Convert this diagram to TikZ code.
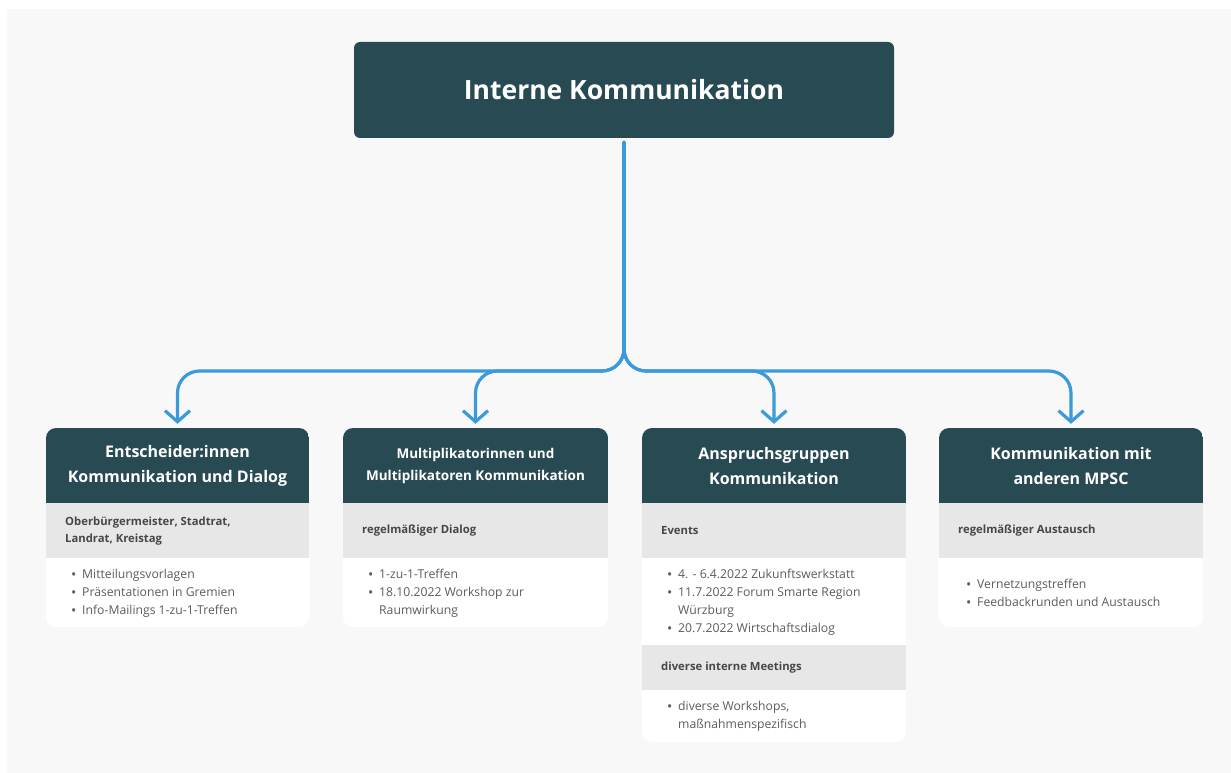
\documentclass[tikz,border=0pt]{standalone}
\usepackage{fontspec}
\setmainfont{Open Sans}
\usetikzlibrary{arrows.meta}

\definecolor{bg}{HTML}{F8F8F8}
\definecolor{head}{HTML}{284A52}
\definecolor{band}{HTML}{E7E7E7}
\definecolor{link}{HTML}{3B9AD9}
\definecolor{bandtext}{HTML}{474747}
\definecolor{itemtext}{HTML}{5C5C5C}

% small list bullet and the indent of a wrapped list line
\newcommand\bul{\makebox[11pt][l]{\raisebox{-0.2ex}{\scalebox{1.15}{\textbullet}}}}
\newcommand\cont{\hspace*{11pt}}

\tikzset{
  conn/.style={draw=link, line width=3.2pt, line cap=round, rounded corners=22pt,
    shorten <=4pt, shorten >=4pt,
    -{Straight Barb[length=11pt,width=25pt]}},
  titlebox/.style={fill=head, rounded corners=6pt, minimum width=540pt,
    minimum height=96pt, text=white, inner sep=0pt,
    font=\bfseries\fontsize{26.5}{30}\selectfont},
  headtxt/.style={text=white, align=center, inner sep=0pt, minimum height=75pt,
    font=\bfseries\fontsize{16}{25}\selectfont},
  headsmall/.style={headtxt, font=\bfseries\fontsize{13.5}{22}\selectfont},
  bandtxt/.style={text=bandtext, align=left, anchor=west, inner sep=0pt,
    font=\bfseries\fontsize{11.3}{17}\selectfont},
  itemtxt/.style={text=itemtext, align=left, anchor=west, inner sep=0pt,
    font=\fontsize{12.2}{18}\selectfont},
  cardfill/.style={fill=white, rounded corners=10pt},
}

\begin{document}
\begin{tikzpicture}[x=1pt, y=-1pt]
  \useasboundingbox (0,0) rectangle (1231,773);
  \fill[bg] (7,9) rectangle (1231,773);

  % title
  \node[titlebox] (top) at (624,90) {Interne Kommunikation};

  % card 1
  \fill[cardfill] (46,428) rectangle (309,627);
  \begin{scope}
    \clip[rounded corners=10pt] (46,428) rectangle (309,627);
    \fill[head] (46,428) rectangle (309,503);
    \fill[band] (46,503) rectangle (309,558);
  \end{scope}
  \node[headtxt, minimum width=263pt] (h1) at (177.5,465.5)
    {Entscheider:innen\\Kommunikation und Dialog};
  \node[bandtxt] (b1) at (65,531) {Oberbürgermeister, Stadtrat,\\Landrat, Kreistag};
  \node[itemtxt] (l1) at (71,593) {\bul Mitteilungsvorlagen\\\bul Präsentationen in Gremien\\\bul Info-Mailings 1-zu-1-Treffen};

  % card 2
  \fill[cardfill] (343,428) rectangle (608,627);
  \begin{scope}
    \clip[rounded corners=10pt] (343,428) rectangle (608,627);
    \fill[head] (343,428) rectangle (608,503);
    \fill[band] (343,503) rectangle (608,558);
  \end{scope}
  \node[headsmall, minimum width=265pt] (h2) at (475.5,465.5)
    {Multiplikatorinnen und\\Multiplikatoren Kommunikation};
  \node[bandtxt] (b2) at (362,531) {regelmäßiger Dialog};
  \node[itemtxt] (l2) at (368,593) {\bul 1-zu-1-Treffen\\\bul 18.10.2022 Workshop zur\\\cont Raumwirkung};

  % card 3
  \fill[cardfill] (642,428) rectangle (906,742);
  \begin{scope}
    \clip[rounded corners=10pt] (642,428) rectangle (906,742);
    \fill[head] (642,428) rectangle (906,503);
    \fill[band] (642,503) rectangle (906,558);
    \fill[band] (642,645) rectangle (906,690);
  \end{scope}
  \node[headtxt, minimum width=264pt] (h3) at (774,465.5)
    {Anspruchsgruppen\\Kommunikation};
  \node[bandtxt] (b3) at (661,531) {Events};
  \node[itemtxt] (l3) at (667,602) {\bul 4. - 6.4.2022 Zukunftswerkstatt\\\bul 11.7.2022 Forum Smarte Region\\\cont Würzburg\\\bul 20.7.2022 Wirtschaftsdialog};
  \node[bandtxt] (b3b) at (661,667.5) {diverse interne Meetings};
  \node[itemtxt] (l3b) at (667,716) {\bul diverse Workshops,\\\cont maßnahmenspezifisch};

  % card 4
  \fill[cardfill] (939,428) rectangle (1203,627);
  \begin{scope}
    \clip[rounded corners=10pt] (939,428) rectangle (1203,627);
    \fill[head] (939,428) rectangle (1203,503);
    \fill[band] (939,503) rectangle (1203,558);
  \end{scope}
  \node[headtxt, minimum width=264pt] (h4) at (1071,465.5)
    {Kommunikation mit\\anderen MPSC};
  \node[bandtxt] (b4) at (958,531) {regelmäßiger Austausch};
  \node[itemtxt] (l4) at (966,593) {\bul Vernetzungstreffen\\\bul Feedbackrunden und Austausch};

  % connectors from the title to the four cards
  \coordinate (split) at (624,371);
  \draw[conn] (top.south) -- (split) -| (h1.north);
  \draw[conn] (top.south) -- (split) -| (h2.north);
  \draw[conn] (top.south) -- (split) -| (h3.north);
  \draw[conn] (top.south) -- (split) -| (h4.north);
\end{tikzpicture}
\end{document}
